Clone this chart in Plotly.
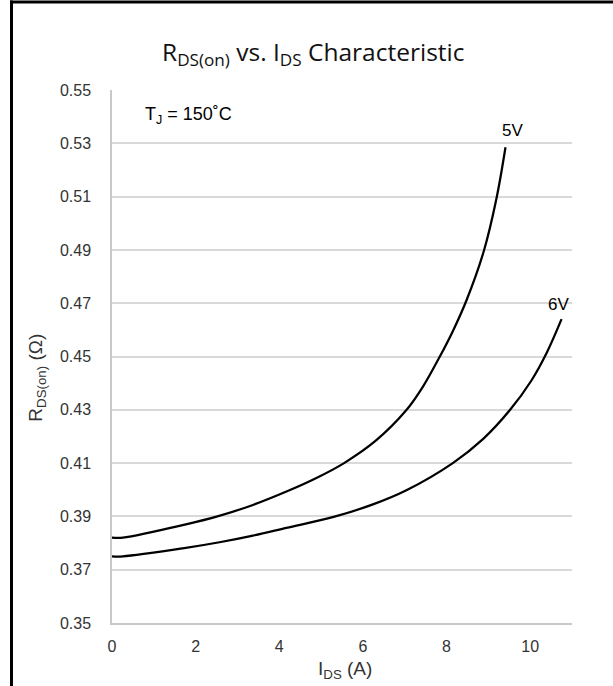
import plotly.graph_objects as go

# ---- data ----
ids_5v = [0, 0.26, 1.0, 1.69, 2.52, 3.37, 4.2, 4.9, 5.55, 6.3, 7.03, 7.44, 7.84, 8.15, 8.48, 8.89, 9.19, 9.41]
rds_5v = [0.382, 0.382, 0.3843, 0.3867, 0.390, 0.3943, 0.3995, 0.4045, 0.410, 0.4183, 0.4297, 0.4388, 0.450, 0.4595, 0.4712, 0.4895, 0.509, 0.5285]

ids_6v = [0, 0.26, 1.69, 2.57, 3.37, 4.17, 5.3, 6.24, 7.04, 8.15, 8.87, 9.52, 10.03, 10.39, 10.75]
rds_6v = [0.375, 0.375, 0.378, 0.3803, 0.3828, 0.3857, 0.3898, 0.3945, 0.3998, 0.410, 0.419, 0.430, 0.441, 0.4512, 0.464]

x_ticks = [0, 2, 4, 6, 8, 10]
y_ticks = [0.35, 0.37, 0.39, 0.41, 0.43, 0.45, 0.47, 0.49, 0.51, 0.53, 0.55]

W, H = 613, 686
L, R, T, B = 112, 41, 90, 63
pw, ph = W - L - R, H - T - B


def px(x):
    return (x - L) / pw


def py(y):
    return (H - B - y) / ph


fig = go.Figure()
for xs, ys in [(ids_5v, rds_5v), (ids_6v, rds_6v)]:
    fig.add_trace(go.Scatter(x=xs, y=ys, mode="lines",
                             line=dict(color="black", width=2.25, shape="spline", smoothing=1.0),
                             showlegend=False, hoverinfo="skip"))

tick_font = dict(family="Liberation Sans, Arial, sans-serif", size=16, color="#333333")

frame = dict(color="black", width=3)
fig.update_layout(
    width=W, height=H,
    margin=dict(l=L, r=R, t=T, b=B, pad=0),
    paper_bgcolor="white", plot_bgcolor="white",
    xaxis=dict(range=[0, 11], tickvals=x_ticks, showgrid=False, zeroline=False,
               showline=True, linecolor="#c8c8c8", linewidth=1.5, ticks="",
               tickfont=tick_font, ticklabelstandoff=8),
    yaxis=dict(range=[0.35, 0.55], tickvals=y_ticks, tickformat=".2f", showgrid=True,
               gridcolor="#d9d9d9", gridwidth=1.5, zeroline=False,
               showline=True, linecolor="#c8c8c8", linewidth=1.5, ticks="",
               tickfont=tick_font, ticklabelstandoff=16),
    shapes=[
        dict(type="line", xref="paper", yref="paper", x0=px(10), y0=py(2), x1=px(W), y1=py(2),
             line=frame, layer="above"),
        dict(type="line", xref="paper", yref="paper", x0=px(11.5), y0=py(0.5), x1=px(11.5), y1=py(H),
             line=frame, layer="above"),
    ],
)

ann_font = dict(family="Liberation Sans, Arial, sans-serif", size=18, color="black")
lab_font = dict(family="Liberation Sans, Arial, sans-serif", size=17, color="black")
title_font = dict(family="Liberation Sans, Arial, sans-serif", size=19, color="#333333")
fig.add_annotation(xref="paper", yref="paper", x=px(313.5), y=py(53), xanchor="center", yanchor="middle",
                   text="R<sub>DS(on)</sub> vs. I<sub>DS</sub> Characteristic", showarrow=False,
                   font=dict(family="Open Sans, sans-serif", size=24.5, color="#111111"))
fig.add_annotation(xref="paper", yref="paper", x=px(143), y=py(115), xanchor="left", yanchor="middle",
                   text="T<sub>J</sub> = 150˚C", showarrow=False, font=ann_font)
fig.add_annotation(xref="paper", yref="paper", x=px(512.7), y=py(130.7), xanchor="center", yanchor="middle",
                   text="5V", showarrow=False, font=lab_font)
fig.add_annotation(xref="paper", yref="paper", x=px(558.3), y=py(304), xanchor="center", yanchor="middle",
                   text="6V", showarrow=False, font=lab_font)
fig.add_annotation(xref="paper", yref="paper", x=px(345), y=py(670), xanchor="center", yanchor="middle",
                   text="I<sub>DS</sub> (A)", showarrow=False, font=title_font)
fig.add_annotation(xref="paper", yref="paper", x=px(36.7), y=py(378), xanchor="center", yanchor="middle",
                   text="R<sub>DS(on)</sub> (Ω)", textangle=-90, showarrow=False, font=title_font)

fig.write_html("out.html", config={"displayModeBar": False},
               post_script="document.body.style.margin='0';document.body.style.overflow='hidden';")
